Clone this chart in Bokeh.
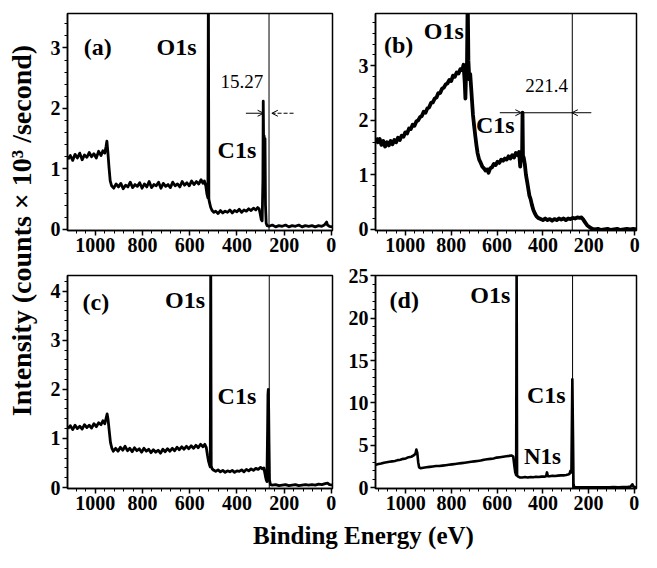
from math import pi
from bokeh.plotting import figure
from bokeh.layouts import row, column
from bokeh.models import Range1d, Span, Label, Arrow, OpenHead, SingleIntervalTicker
from bokeh.embed import file_html
from bokeh.resources import INLINE

FONT = "Liberation Serif"

# ---------------- data (binding energy in eV, intensity in 10^3 counts/s) ----------------
E_A = [1116, 1106, 1096, 1086, 1076, 1066, 1056, 1046, 1036, 1026, 1016, 1006, 996, 986, 976, 968, 960, 955, 951, 947, 942, 937, 931,
       922, 912, 902, 892, 882, 872, 862, 852, 842, 832, 822, 812, 802, 792, 782, 772, 762, 752, 742, 732, 722, 712, 702, 692, 682,
       672, 662, 652, 642, 632, 622, 612, 602, 592, 582, 572, 562, 552, 544, 538, 532, 527, 523, 521, 519, 516, 511, 505, 498,
       490, 480, 470, 460, 450, 440, 430, 420, 410, 400, 390, 380, 370, 360, 350, 340, 330, 320, 312, 306, 301, 297, 293, 290,
       288.5, 287, 285, 283, 281, 279, 276, 272,
       264, 250, 236, 222, 208, 194, 180, 166, 152, 138, 124, 110, 96, 82, 68, 54, 40, 30, 24, 20, 16, 8, -4]
I_A = [1.16, 1.22, 1.14, 1.24, 1.18, 1.26, 1.15, 1.23, 1.19, 1.27, 1.20, 1.25, 1.18, 1.29, 1.22, 1.30, 1.26, 1.36, 1.46, 1.28, 1.02, 0.80, 0.72,
       0.68, 0.75, 0.70, 0.76, 0.67, 0.73, 0.70, 0.78, 0.69, 0.74, 0.71, 0.77, 0.68, 0.75, 0.70, 0.79, 0.69, 0.74, 0.72, 0.78, 0.68, 0.76, 0.71, 0.74, 0.69,
       0.78, 0.72, 0.75, 0.70, 0.79, 0.73, 0.77, 0.72, 0.80, 0.74, 0.79, 0.75, 0.82, 0.76, 0.80, 0.72, 0.58, 0.52, 4.20, 0.50, 0.44, 0.36, 0.31, 0.28,
       0.30, 0.26, 0.31, 0.27, 0.30, 0.28, 0.32, 0.27, 0.31, 0.29, 0.33, 0.28, 0.32, 0.30, 0.34, 0.31, 0.35, 0.32, 0.36, 0.34, 0.25, 0.16, 0.14, 0.80,
       2.12, 1.50, 1.55, 1.45, 1.50, 0.40, 0.10, 0.06,
       0.05, 0.07, 0.04, 0.06, 0.05, 0.07, 0.04, 0.06, 0.05, 0.07, 0.04, 0.06, 0.05, 0.06, 0.04, 0.06, 0.05, 0.07, 0.10, 0.12, 0.07, 0.05, 0.04]

E_B = [1128, 1120, 1112, 1104, 1096, 1088, 1080, 1072, 1064, 1056, 1048, 1040, 1032, 1024, 1016, 1008, 1000, 992, 984, 976, 968, 960,
       952, 944, 936, 928, 920, 912, 904, 896, 888, 880, 872, 864, 856, 848, 840, 832, 824, 816, 808, 800, 792, 784, 776, 768, 760, 752,
       746, 741, 738, 735, 731, 728, 725, 721, 717, 713, 709, 705, 700, 695, 690, 685, 678, 671, 664, 657, 650, 643, 637, 630, 622, 614,
       606, 598, 590, 582, 574, 566, 558, 550, 542, 534, 526, 518, 510, 504, 499, 495, 491, 489, 487, 484, 479, 474, 469, 464, 459, 454,
       448, 442, 436, 428, 420, 410, 400, 390, 380, 370, 360, 350, 340, 330, 320, 310, 300, 290, 280, 270, 260, 250, 240, 232, 224, 216,
       208, 200, 192, 184, 174, 160, 146, 132, 118, 104, 90, 76, 62, 48, 34, 20, 6, -8]
I_B = [1.68, 1.60, 1.66, 1.55, 1.62, 1.52, 1.60, 1.54, 1.62, 1.56, 1.64, 1.60, 1.68, 1.64, 1.72, 1.70, 1.78, 1.76, 1.85, 1.84, 1.92, 1.90,
       1.98, 2.00, 2.06, 2.08, 2.16, 2.14, 2.22, 2.24, 2.32, 2.33, 2.40, 2.42, 2.50, 2.50, 2.58, 2.60, 2.66, 2.68, 2.74, 2.72, 2.82, 2.80, 2.88, 2.86, 2.94, 2.92,
       3.02, 2.70, 2.40, 2.90, 3.05, 4.30, 3.10, 2.75, 2.85, 2.60, 2.35, 2.10, 1.90, 1.72, 1.55, 1.40, 1.28, 1.22, 1.15, 1.12, 1.08, 1.10, 1.04, 1.12, 1.14, 1.20,
       1.18, 1.24, 1.22, 1.28, 1.26, 1.30, 1.28, 1.34, 1.30, 1.36, 1.32, 1.40, 1.36, 1.42, 1.15, 1.40, 1.30, 2.14, 1.35, 1.32, 1.20, 1.00, 0.88, 0.75, 0.62, 0.56,
       0.45, 0.36, 0.30, 0.24, 0.21, 0.19, 0.17, 0.20, 0.17, 0.19, 0.16, 0.19, 0.17, 0.20, 0.18, 0.20, 0.17, 0.20, 0.19, 0.21, 0.20, 0.22, 0.21, 0.22, 0.18, 0.13,
       0.08, 0.05, 0.03, 0.01, 0.00, 0.01, -0.01, 0.00, 0.01, -0.01, 0.00, 0.01, -0.01, 0.00, 0.01, 0.00, 0.01, 0.00]

E_C = [1116, 1106, 1096, 1086, 1076, 1066, 1056, 1046, 1036, 1026, 1016, 1006, 996, 986, 976, 968, 960, 954, 950, 946, 941, 936, 930, 924,
       914, 904, 894, 884, 874, 864, 854, 844, 834, 824, 814, 804, 794, 784, 774, 764, 754, 744, 734, 724, 714, 704, 694, 684, 674, 664,
       654, 644, 634, 624, 614, 604, 594, 584, 574, 564, 554, 544, 536, 530, 525, 521, 516, 513, 511, 509, 505, 498,
       490, 480, 470, 460, 450, 440, 430, 420, 410, 400, 390, 380, 370, 360, 350, 340, 330, 320, 310, 300, 292, 286, 282, 278, 276, 273,
       270, 268.5, 267, 265.5, 264, 262, 258,
       250, 236, 222, 208, 194, 180, 166, 152, 138, 124, 110, 96, 82, 68, 54, 40, 26, 16, 8, -4]
I_C = [1.20, 1.26, 1.18, 1.27, 1.20, 1.25, 1.19, 1.28, 1.22, 1.27, 1.21, 1.30, 1.24, 1.32, 1.28, 1.36, 1.30, 1.42, 1.50, 1.38, 1.15, 0.92, 0.80, 0.74,
       0.80, 0.74, 0.82, 0.76, 0.84, 0.75, 0.80, 0.73, 0.81, 0.75, 0.79, 0.72, 0.80, 0.74, 0.78, 0.71, 0.77, 0.72, 0.76, 0.70, 0.78, 0.73, 0.79, 0.74, 0.80, 0.75,
       0.82, 0.77, 0.83, 0.78, 0.84, 0.79, 0.85, 0.80, 0.86, 0.81, 0.88, 0.83, 0.88, 0.82, 0.66, 0.55, 0.46, 0.42, 4.80, 0.44, 0.38, 0.35,
       0.33, 0.36, 0.32, 0.35, 0.31, 0.34, 0.32, 0.35, 0.31, 0.34, 0.33, 0.36, 0.32, 0.37, 0.34, 0.38, 0.35, 0.39, 0.37, 0.41, 0.38, 0.40, 0.30, 0.20, 0.16, 0.12,
       1.20, 1.90, 2.00, 1.60, 0.90, 0.15, 0.06,
       0.05, 0.06, 0.04, 0.05, 0.06, 0.04, 0.05, 0.06, 0.04, 0.05, 0.06, 0.05, 0.06, 0.05, 0.07, 0.06, 0.08, 0.09, 0.06, 0.05]

E_D = [1132, 1120, 1108, 1096, 1084, 1072, 1060, 1048, 1036, 1024, 1012, 1000, 988, 976, 966, 958, 954, 950, 946, 942, 936,
       924, 910, 896, 882, 868, 854, 840, 826, 812, 798, 784, 770, 756, 742, 728, 714, 700, 686, 672, 658, 644, 630, 616, 602,
       588, 574, 560, 548, 538, 530, 525, 521, 517, 515, 513, 508, 500,
       490, 478, 466, 454, 442, 430, 418, 406, 394, 386, 382, 378, 370, 358, 346, 334, 322, 310, 298, 290, 284, 279, 275, 271, 268, 266, 263,
       250, 230, 210, 190, 170, 150, 130, 110, 90, 70, 50, 30, 16, 8, 4, -4, -10]
I_D = [2.70, 2.80, 2.85, 2.95, 3.00, 3.05, 3.10, 3.15, 3.25, 3.30, 3.40, 3.45, 3.60, 3.65, 3.80, 4.00, 4.50, 4.10, 3.00, 2.40, 2.30,
       2.35, 2.40, 2.45, 2.50, 2.55, 2.55, 2.60, 2.65, 2.70, 2.75, 2.80, 2.85, 2.90, 2.95, 3.00, 3.05, 3.10, 3.15, 3.20, 3.30, 3.35, 3.40, 3.45, 3.55,
       3.60, 3.65, 3.70, 3.75, 3.80, 3.70, 2.60, 1.80, 1.50, 26.0, 1.40, 1.30, 1.20,
       1.20, 1.25, 1.20, 1.25, 1.22, 1.28, 1.25, 1.30, 1.30, 1.35, 1.80, 1.35, 1.35, 1.40, 1.38, 1.42, 1.45, 1.45, 1.50, 1.55, 1.60, 2.00, 1.80, 12.8, 6.0, 0.50, 0.05,
       0.05, 0.03, 0.05, 0.03, 0.05, 0.04, 0.05, 0.04, 0.06, 0.05, 0.06, 0.08, 0.12, 0.40, 0.15, 0.05, 0.05]

# reference (vertical) line positions, eV
REF_LINE = {"a": 264, "b": 272, "c": 263, "d": 270}

# panel annotation texts
PANEL_TAGS = ["(a)", "(b)", "(c)", "(d)"]
PEAK_NAMES = ["O1s", "C1s", "N1s"]
SHIFT_TEXT = {"a": "15.27", "b": "221.4"}

# ---------------- helpers ----------------
def make_panel(width, height, xr, yr, ml, mr, mt, mb, yint):
    p = figure(width=width, height=height, x_range=Range1d(*xr), y_range=Range1d(*yr),
               toolbar_location=None, output_backend="svg",
               min_border_left=ml, min_border_right=mr, min_border_top=mt, min_border_bottom=mb)
    p.grid.visible = False
    p.outline_line_color = "black"
    p.outline_line_width = 1.5
    p.xaxis.ticker = SingleIntervalTicker(interval=200, num_minor_ticks=5)
    p.yaxis.ticker = SingleIntervalTicker(interval=yint, num_minor_ticks=5)
    for ax in (p.xaxis, p.yaxis):
        ax.axis_line_width = 1.5
        ax.axis_line_color = "black"
        ax.major_tick_line_width = 1.5
        ax.major_tick_line_color = "black"
        ax.minor_tick_line_color = "black"
        ax.major_tick_in = 0
        ax.major_tick_out = 5
        ax.minor_tick_in = 0
        ax.minor_tick_out = 3
        ax.major_label_text_font = FONT
        ax.major_label_text_font_style = "bold"
        ax.major_label_text_font_size = "20px"
        ax.major_label_text_color = "black"
        ax.major_label_standoff = 2
    return p


def add_text(p, x, y, txt, size="24px", style="bold"):
    p.add_layout(Label(x=x, y=y, text=txt, text_font=FONT, text_font_style=style,
                       text_font_size=size, text_color="black",
                       text_align="center", text_baseline="middle"))


def add_arrow(p, xs, xe, y, dash="solid"):
    p.add_layout(Arrow(end=OpenHead(size=6, line_width=1, line_color="black"),
                       x_start=xs, y_start=y, x_end=xe, y_end=y,
                       line_width=1, line_color="black", line_dash=dash))


# ---------------- panels ----------------
pa = make_panel(307, 261, (1118, -5), (-0.02, 3.57), 29, 13, 13, 31, 1)
pb = make_panel(296, 261, (1130, -8), (-0.02, 3.96), 30, 5, 13, 31, 1)
pc = make_panel(307, 257, (1118, -5), (-0.02, 4.32), 29, 13, 7, 30, 1)
pd = make_panel(296, 257, (1133, -10), (-0.1, 25.05), 30, 5, 14, 30, 5)

LW = {"a": 2.8, "b": 3.8, "c": 2.8, "d": 2.6}
for key, p, E, I in (("a", pa, E_A, I_A), ("b", pb, E_B, I_B), ("c", pc, E_C, I_C), ("d", pd, E_D, I_D)):
    p.add_layout(Span(location=REF_LINE[key], dimension="height", line_color="black", line_width=1))
    p.line(E, I, line_color="black", line_width=LW[key], line_join="round")

# (a)
add_text(pa, 990, 3.02, PANEL_TAGS[0])
add_text(pa, 656, 3.02, PEAK_NAMES[0])
add_text(pa, 400, 1.32, PEAK_NAMES[1])
add_text(pa, 379, 2.44, SHIFT_TEXT["a"], size="19px", style="normal")
add_arrow(pa, 362, 287, 1.92)
add_arrow(pa, 160, 252, 1.92, dash="4 2")

# (b)
add_text(pb, 1029, 3.39, PANEL_TAGS[1])
add_text(pb, 832, 3.63, PEAK_NAMES[0])
add_text(pb, 608, 1.92, PEAK_NAMES[1])
add_text(pb, 384, 2.64, SHIFT_TEXT["b"], size="19px", style="normal")
add_arrow(pb, 588, 494, 2.14)
pb.segment(x0=[489], y0=[2.14], x1=[REF_LINE["b"]], y1=[2.14], line_color="black", line_width=1.2)
add_arrow(pb, 189, 274, 2.14)

# (c)
add_text(pc, 998, 3.79, PANEL_TAGS[2])
add_text(pc, 620, 3.82, PEAK_NAMES[0])
add_text(pc, 400, 1.86, PEAK_NAMES[1])

# (d)
add_text(pd, 1007, 22.1, PANEL_TAGS[3])
add_text(pd, 630, 22.7, PEAK_NAMES[0])
add_text(pd, 385, 10.96, PEAK_NAMES[1])
add_text(pd, 402, 3.66, PEAK_NAMES[2], size="23px")

# ---------------- shared axis titles ----------------
ylab = figure(width=38, height=552, x_range=Range1d(0, 38), y_range=Range1d(0, 552),
              x_axis_type=None, y_axis_type=None, toolbar_location=None,
              output_backend="svg", min_border=0)
ylab.outline_line_color = None
ylab.grid.visible = False
ylab.add_layout(Label(x=21, y=322, text="Intensity (counts \u00d7 10\u00b3 /second)", angle=pi / 2,
                      text_font=FONT, text_font_style="bold", text_font_size="28px",
                      text_color="black", text_align="center", text_baseline="middle"))

xlab = figure(width=603, height=34, x_range=Range1d(0, 603), y_range=Range1d(0, 34),
              x_axis_type=None, y_axis_type=None, toolbar_location=None,
              output_backend="svg", min_border=0)
xlab.outline_line_color = None
xlab.grid.visible = False
xlab.add_layout(Label(x=325, y=17, text="Binding Energy (eV)",
                      text_font=FONT, text_font_style="bold", text_font_size="25px",
                      text_color="black", text_align="center", text_baseline="middle"))

layout = row(ylab, column(row(pa, pb), row(pc, pd), xlab))

open("out.html", "w").write(file_html(layout, INLINE))
